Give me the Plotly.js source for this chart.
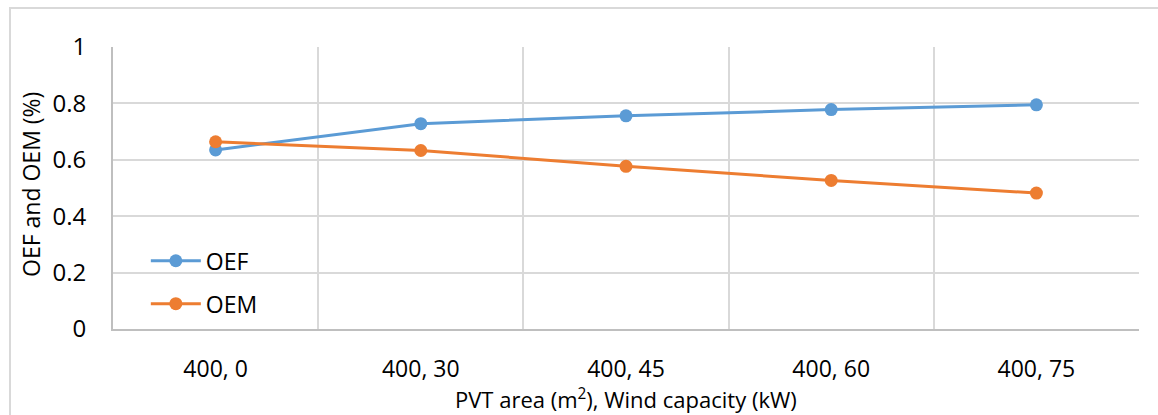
<!DOCTYPE html>
<html>
<head>
<meta charset="utf-8">
<script src="https://cdn.plot.ly/plotly-3.0.1.min.js"></script>
<style>
html, body { margin: 0; padding: 0; background: #fff; }
#wrap { position: relative; width: 1158px; height: 415px; overflow: hidden; }
#chart { position: absolute; left: 0; top: 0; width: 1158px; height: 415px; }
#frame { position: absolute; left: 9px; top: 7px; width: 1160px; height: 420px;
  border-top: 2px solid #d9d9d9; border-left: 2px solid #d9d9d9; pointer-events: none; }
</style>
</head>
<body>
<div id="wrap">
  <div id="chart"></div>
  <div id="frame"></div>
</div>
<script>
const categories = ["400, 0", "400, 30", "400, 45", "400, 60", "400, 75"];
const oef = [0.635, 0.728, 0.756, 0.778, 0.795];
const oem = [0.664, 0.633, 0.577, 0.527, 0.482];
const yTicks = [0, 0.2, 0.4, 0.6, 0.8, 1];
const yTickText = ["0", "0.2", "0.4", "0.6", "0.8", "1"];
const xTitle = "PVT area (m<sup>2</sup>), Wind capacity (kW)";
const yTitle = "OEF and OEM (%)";

const FONT = "Open Sans, Lato, sans-serif";

const traces = [
  {
    x: categories, y: oef, name: "OEF", type: "scatter", mode: "lines+markers",
    line: {color: "#5b9bd5", width: 3}, marker: {color: "#5b9bd5", size: 13},
    legendgroup: "a"
  },
  {
    x: categories, y: oem, name: "OEM", type: "scatter", mode: "lines+markers",
    line: {color: "#ed7d31", width: 3}, marker: {color: "#ed7d31", size: 13},
    legendgroup: "b"
  }
];

const layout = {
  width: 1158, height: 415,
  margin: {l: 113, r: 19, t: 47, b: 86, pad: 0},
  paper_bgcolor: "#ffffff", plot_bgcolor: "#ffffff",
  font: {family: FONT, color: "#000000", size: 23},
  showlegend: true,
  legend: {
    x: 0.032, y: 0.318, xanchor: "left", yanchor: "top",
    bgcolor: "rgba(0,0,0,0)", font: {family: FONT, size: 23, color: "#000"},
    tracegroupgap: 10, itemwidth: 50
  },
  xaxis: {
    type: "category", categoryorder: "array", categoryarray: categories,
    range: [-0.5, 4.5], tickson: "boundaries", ticks: "",
    showgrid: true, gridcolor: "#d9d9d9", gridwidth: 2,
    showline: true, linecolor: "#bfbfbf", linewidth: 2,
    tickfont: {family: FONT, size: 23, color: "#000"},
    ticklabelstandoff: 18,
    fixedrange: true, zeroline: false
  },
  yaxis: {
    range: [0, 1], tickvals: yTicks, ticktext: yTickText, ticks: "",
    showgrid: true, gridcolor: "#d9d9d9", gridwidth: 2,
    showline: true, linecolor: "#bfbfbf", linewidth: 2,
    zeroline: false,
    tickfont: {family: FONT, size: 24, color: "#000"},
    ticklabelstandoff: 20,
    fixedrange: true
  },
  annotations: [
    {text: xTitle, xref: "paper", yref: "paper", x: 0.5, y: -0.248,
     xanchor: "center", yanchor: "middle", showarrow: false,
     font: {family: FONT, size: 22, color: "#000"}},
    {text: yTitle, xref: "paper", yref: "paper", x: -0.08, y: 0.514,
     xanchor: "center", yanchor: "middle", showarrow: false, textangle: -90,
     font: {family: FONT, size: 23, color: "#000"}}
  ]
};

Plotly.newPlot("chart", traces, layout, {displayModeBar: false, staticPlot: true});
</script>
</body>
</html>
